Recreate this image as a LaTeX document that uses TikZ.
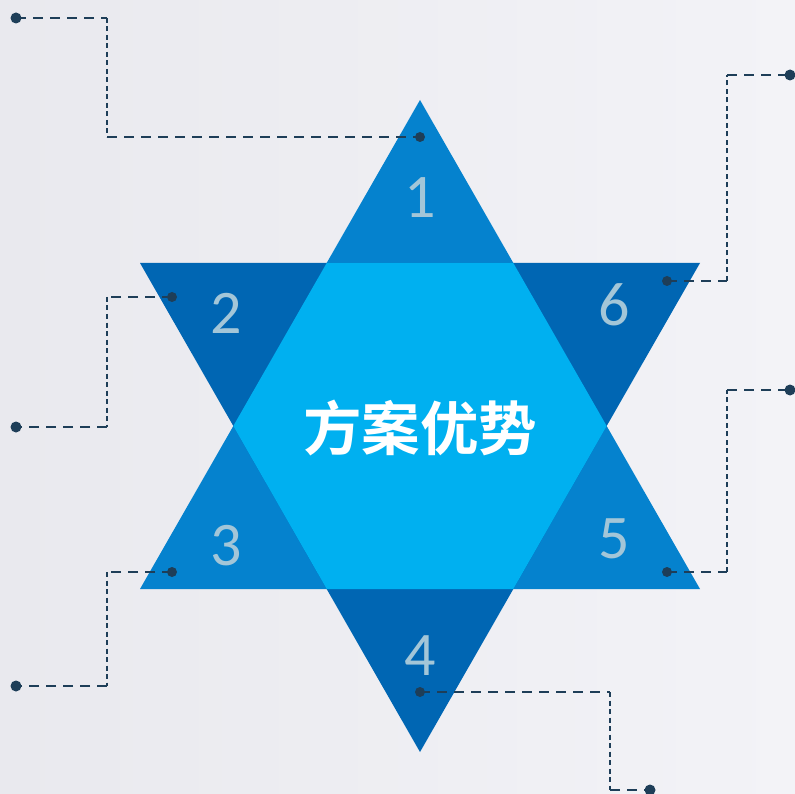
\documentclass[tikz,border=0pt]{standalone}
\usepackage{fontspec}
\setmainfont{Carlito}
\newfontfamily\cjk{Noto Sans CJK SC Bold}
\definecolor{bgA}{RGB}{233,233,238}
\definecolor{bgB}{RGB}{243,243,247}
\definecolor{triMid}{RGB}{5,130,206}
\definecolor{triDark}{RGB}{0,102,179}
\definecolor{hexLight}{RGB}{0,176,240}
\definecolor{numCol}{RGB}{163,198,216}
\definecolor{lineCol}{RGB}{30,62,88}
\tikzset{
  hseg/.style={draw=lineCol, line width=2.7pt, dash pattern=on 10pt off 7pt},
  vseg/.style={draw=lineCol, line width=1.6pt, dash pattern=on 5pt off 3.5pt},
  bigdot/.style={fill=lineCol},
  numlabel/.style={text=numCol, font=\fontsize{62}{62}\selectfont, inner sep=0pt},
  title/.style={text=white, font=\cjk\fontsize{58.5}{58.5}\selectfont, inner sep=0pt}
}
\begin{document}
\begin{tikzpicture}[x=1pt,y=-1pt]
\useasboundingbox (0,0) rectangle (795,794);
\shade[left color=bgA, right color=bgB] (0,0) rectangle (795,794);
% triangles
\fill[triMid] (420,100) -- (700,589) -- (140,589) -- cycle;
\fill[triDark] (140,263) -- (700,263) -- (420,752) -- cycle;
\fill[hexLight] (326.7,263) -- (513.3,263) -- (606.7,426) -- (513.3,589) -- (326.7,589) -- (233.3,426) -- cycle;
% labels
\node[numlabel] (n1) at (420,198) {1};
\node[numlabel] (n2) at (226,313) {2};
\node[numlabel] (n6) at (614,305) {6};
\node[numlabel] (n3) at (226,546) {3};
\node[numlabel] (n5) at (614,539) {5};
\node[numlabel] (n4) at (420,656) {4};
\node[title] (t) at (420,428) {方案优势};
% coordinates
\coordinate (a1) at (16,18);   \coordinate (b1) at (107,18);  \coordinate (c1) at (107,137); \coordinate (d1) at (420,137);
\coordinate (a2) at (172,297); \coordinate (b2) at (107,297); \coordinate (c2) at (107,427); \coordinate (d2) at (16,427);
\coordinate (a3) at (172,572); \coordinate (b3) at (107,572); \coordinate (c3) at (107,686); \coordinate (d3) at (16,686);
\coordinate (a4) at (420,692); \coordinate (b4) at (610,692); \coordinate (c4) at (610,790); \coordinate (d4) at (650,790);
\coordinate (a5) at (667,572); \coordinate (b5) at (727,572); \coordinate (c5) at (727,390); \coordinate (d5) at (790,390);
\coordinate (a6) at (667,281); \coordinate (b6) at (727,281); \coordinate (c6) at (727,75);  \coordinate (d6) at (790,75);
\foreach \i in {1,...,6}{
  \draw[hseg] (a\i) -- (b\i);
  \draw[vseg] (b\i) -- (c\i);
  \draw[hseg] (c\i) -- (d\i);
}
\fill[bigdot] (a1) circle (5.5);
\fill[bigdot] (d1) circle (5);
\fill[bigdot] (a2) circle (5);
\fill[bigdot] (d2) circle (5.5);
\fill[bigdot] (a3) circle (5);
\fill[bigdot] (d3) circle (5.5);
\fill[bigdot] (a4) circle (5);
\fill[bigdot] (d4) circle (5.5);
\fill[bigdot] (a5) circle (5);
\fill[bigdot] (d5) circle (5.5);
\fill[bigdot] (a6) circle (5);
\fill[bigdot] (d6) circle (5.5);
\end{tikzpicture}
\end{document}
